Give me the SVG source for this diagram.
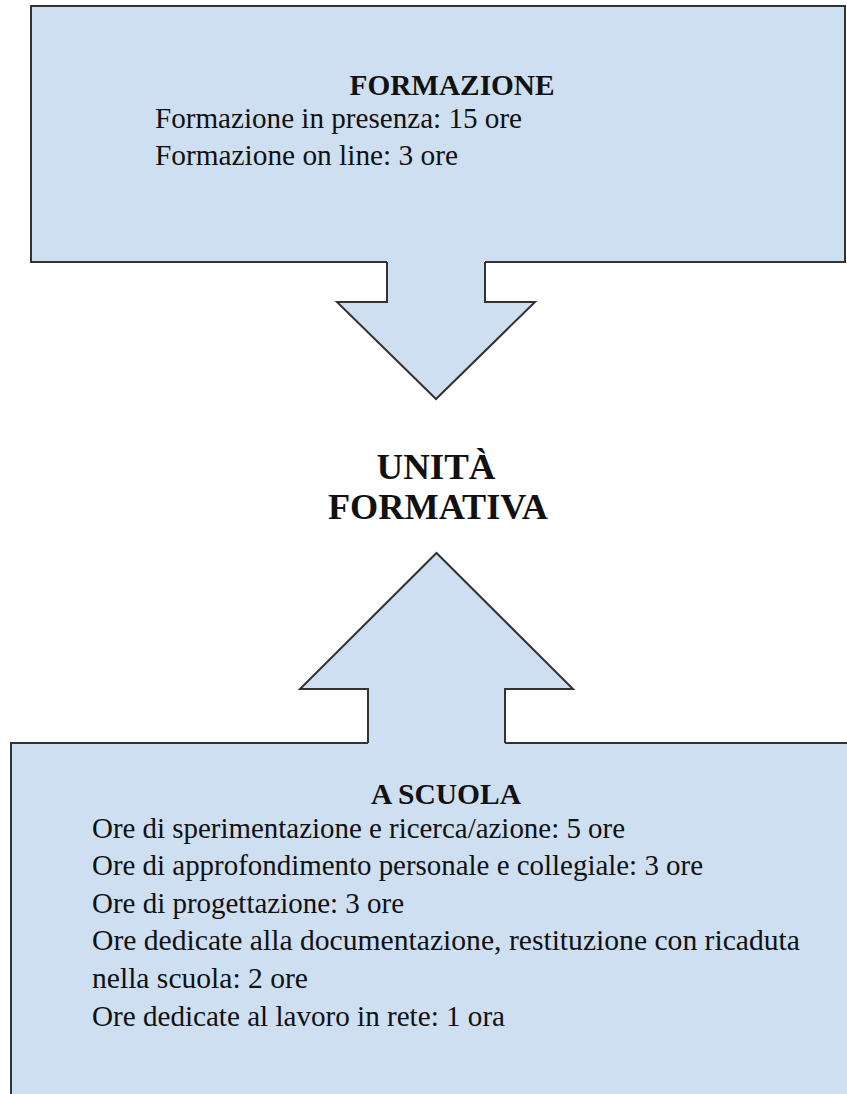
<svg xmlns="http://www.w3.org/2000/svg" width="847" height="1094" viewBox="0 0 847 1094">
  <style>
    .box { fill: #cedff1; stroke: #333333; stroke-width: 2; }
    .afill { fill: #cedff1; stroke: none; }
    .aline { fill: none; stroke: #333333; stroke-width: 2; stroke-linejoin: miter; }
    .h { font-family: "Liberation Serif", "Times New Roman", serif; font-weight: bold; fill: #111111; }
    .t { font-family: "Liberation Serif", "Times New Roman", serif; font-size: 30px; fill: #111111; }
  </style>
  <rect x="0" y="0" width="847" height="1094" fill="#ffffff"/>

  <g id="formazione">
    <rect class="box" x="31" y="6" width="814" height="256"/>
    <text class="h" x="452" y="95" font-size="29" text-anchor="middle" textLength="205" lengthAdjust="spacingAndGlyphs">FORMAZIONE</text>
    <text class="t" x="155" y="128" textLength="367" lengthAdjust="spacingAndGlyphs">Formazione in presenza: 15 ore</text>
    <text class="t" x="155" y="165" textLength="303" lengthAdjust="spacingAndGlyphs">Formazione on line: 3 ore</text>
  </g>

  <g id="a-scuola">
    <rect class="box" x="11" y="743" width="850" height="370"/>
    <text class="h" x="446" y="804" font-size="29" text-anchor="middle" textLength="150" lengthAdjust="spacingAndGlyphs">A SCUOLA</text>
    <text class="t" x="92" y="838" textLength="533" lengthAdjust="spacingAndGlyphs">Ore di sperimentazione e ricerca/azione: 5 ore</text>
    <text class="t" x="92" y="875" textLength="611" lengthAdjust="spacingAndGlyphs">Ore di approfondimento personale e collegiale: 3 ore</text>
    <text class="t" x="92" y="913" textLength="312" lengthAdjust="spacingAndGlyphs">Ore di progettazione: 3 ore</text>
    <text class="t" x="92" y="950" textLength="708" lengthAdjust="spacingAndGlyphs">Ore dedicate alla documentazione, restituzione con ricaduta</text>
    <text class="t" x="92" y="988" textLength="216" lengthAdjust="spacingAndGlyphs">nella scuola: 2 ore</text>
    <text class="t" x="92" y="1026" textLength="413" lengthAdjust="spacingAndGlyphs">Ore dedicate al lavoro in rete: 1 ora</text>
  </g>

  <g id="unita-formativa">
    <text class="h" x="436" y="479" font-size="36" text-anchor="middle" textLength="119" lengthAdjust="spacingAndGlyphs">UNITÀ</text>
    <text class="h" x="438" y="519" font-size="36" text-anchor="middle" textLength="220" lengthAdjust="spacingAndGlyphs">FORMATIVA</text>
  </g>

  <g id="connectors">
    <g id="arrow-down">
      <polygon class="afill" points="387,259 485,259 485,302 535,302 436,399 337,302 387,302"/>
      <polyline class="aline" points="387,262 387,302 337,302 436,399 535,302 485,302 485,262"/>
    </g>
    <g id="arrow-up">
      <polygon class="afill" points="368,746 505,746 505,689 573,689 436.5,553 300,689 368,689"/>
      <polyline class="aline" points="368,743 368,689 300,689 436.5,553 573,689 505,689 505,743"/>
    </g>
  </g>
</svg>
